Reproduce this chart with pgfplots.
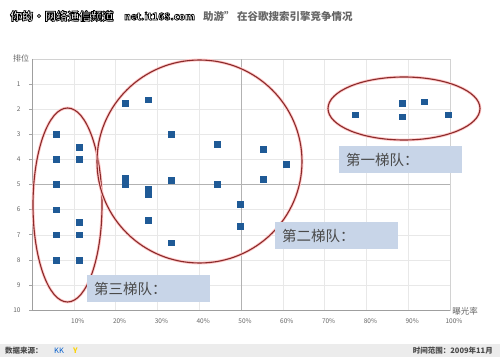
\documentclass[border=0pt]{standalone}
\usepackage{pgfplots}
\pgfplotsset{compat=1.18}
\usepackage{fontspec}
\setmainfont{Noto Sans CJK SC}
\definecolor{ptblue}{HTML}{1F5A96}
\definecolor{ellred}{HTML}{8A2A2A}
\definecolor{boxblue}{HTML}{C8D5E8}
\definecolor{txtgray}{HTML}{4A4A4A}
\definecolor{tickgray}{HTML}{666666}
\newcommand{\outl}[1]{\special{pdf:code q 2 Tr 0.7 w 0 G}#1\special{pdf:code Q}}
\begin{document}
\begin{tikzpicture}
\begin{scope}[x=1pt,y=-1pt]
\path[use as bounding box, fill=white] (0,0) rectangle (500,363);
\end{scope}
\begin{axis}[
  at={(32pt,-310pt)}, anchor=south west,
  scale only axis, width=418pt, height=251pt,
  xmin=0, xmax=100, ymin=0, ymax=10, y dir=reverse,
  xtick={10,20,...,100}, ytick={1,2,...,10},
  xticklabels={10\%,20\%,30\%,40\%,50\%,60\%,70\%,80\%,90\%,100\%},
  grid=major, major grid style={gray!18, line width=0.4pt},
  axis line style={gray!35, line width=0.6pt},
  tick style={gray!70, line width=0.6pt},
  xtick style={draw=none},
  ytick pos=left, tick align=outside, major tick length=3pt,
  /pgf/number format/assume math mode=true,
  tick label style={font=\fontsize{6.5}{7}\selectfont, text=tickgray},
  xticklabel style={xshift=4pt, yshift=-2pt},
  yticklabel style={xshift=-5pt},
  clip=false,
]
\draw[gray!60, line width=0.9pt] (axis cs:50,0) -- (axis cs:50,10);
\draw[gray!60, line width=0.9pt] (axis cs:0,5) -- (axis cs:100,5);
\addplot[only marks, mark=square*, mark size=2.9pt, color=ptblue] coordinates {
(5.7,3) (5.7,4) (5.7,5) (5.7,6) (5.7,7) (5.7,8)
(11.2,3.5) (11.2,4) (11.2,6.5) (11.2,7) (11.2,8)
};
\addplot[only marks, mark=square*, mark size=2.9pt, color=ptblue] coordinates {
(22.3,1.77) (27.8,1.62) (33.3,3.0) (44.3,3.39) (55.4,3.6)
(22.3,4.74) (22.3,5.0) (27.8,5.2) (27.8,5.4) (33.3,4.83)
(44.3,5.0) (55.4,4.8) (49.8,5.78) (49.8,6.65) (27.8,6.41)
(33.3,7.32) (60.8,4.18)
};
\addplot[only marks, mark=square*, mark size=2.9pt, color=ptblue] coordinates {
(77.4,2.22) (88.5,1.75) (88.5,2.3) (93.8,1.7) (99.5,2.22)
};
\end{axis}
\begin{scope}[x=1pt,y=-1pt]
% darker left and bottom axis lines
\draw[gray!75, line width=1pt] (32,59) -- (32,310) -- (450,310);
% ellipses
\foreach \c/\rx/\ry in {{(67.5,205)}/34.5/97, {(199.5,161.5)}/102.5/101.5, {(404,108.5)}/76/31.5}{
  \draw[red!22, line width=2.8pt] \c ellipse [x radius=\rx pt, y radius=\ry pt];
  \draw[ellred, line width=1.1pt] \c ellipse [x radius=\rx pt, y radius=\ry pt];
}
% label boxes
\fill[boxblue] (339,146) rectangle (462,173);
\node[anchor=west, text=txtgray, font=\fontsize{14.5}{15}\selectfont, inner sep=0pt] at (346,159.5) {第一梯队：};
\fill[boxblue] (275,222) rectangle (398,249);
\node[anchor=west, text=txtgray, font=\fontsize{14.5}{15}\selectfont, inner sep=0pt] at (282,235.5) {第二梯队：};
\fill[boxblue] (87,275) rectangle (210,302);
\node[anchor=west, text=txtgray, font=\fontsize{14.5}{15}\selectfont, inner sep=0pt] at (94,288.5) {第三梯队：};
% axis titles
\node[text=tickgray, font=\fontsize{8}{9}\selectfont, inner sep=0pt] at (21,58) {排位};
\node[text=tickgray, font=\fontsize{8.5}{9}\selectfont, inner sep=0pt] at (465,311) {曝光率};
% title
\node[anchor=west, inner sep=0pt, text=white, font=\fontsize{11.5}{12}\bfseries\selectfont] at (10,16) {\outl{你的·网络通信频道}};
\node[anchor=west, inner sep=0pt, text=white, font=\fontsize{10}{12}\bfseries\selectfont] at (124,16) {\outl{net.it168.com}};
\node[anchor=west, inner sep=0pt, text=gray!80!black, font=\fontsize{10.5}{12}\bfseries\selectfont] at (203,16) {助游”\ 在谷歌搜索引擎竞争情况};
% footer
\fill[gray!15] (0,344) rectangle (500,357);
\node[anchor=west, inner sep=0pt, text=txtgray, font=\fontsize{7.5}{8}\bfseries\selectfont] at (5,350.5) {数据来源：};
\node[anchor=west, inner sep=0pt, text=blue!55!cyan!80!black, font=\fontsize{7.5}{8}\selectfont] at (54,350.5) {KK};
\node[anchor=west, inner sep=0pt, text=yellow!70!orange, font=\fontsize{7.5}{8}\bfseries\selectfont] at (73,350.5) {Y};
\node[anchor=east, inner sep=0pt, text=txtgray, font=\fontsize{7.5}{8}\bfseries\selectfont] at (493,350.5) {时间范围：2009年11月};
\end{scope}
\end{tikzpicture}
\end{document}
